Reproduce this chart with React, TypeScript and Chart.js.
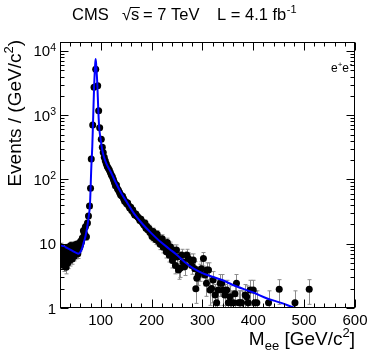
import React, { useEffect, useRef } from "react";
import { Chart, registerables } from "chart.js";
Chart.register(...registerables);

// Axis ranges and tick labels
const X_MIN = 20;
const X_MAX = 600;
const Y_MIN = 1;
const Y_MAX = 13800;
const xTickLabels = [100, 200, 300, 400, 500, 600];
const yDecadeExponents = [0, 1, 2, 3, 4];

// Data points: dielectron mass (GeV/c^2), events/(GeV/c^2), error
const massX = [
  21, 22, 23, 24, 25, 26, 27, 28, 29, 30, 31, 32, 33, 34, 35, 36, 37, 38, 39, 40,
  41, 42, 43, 44, 45, 46, 47, 48, 49, 50, 51, 52, 53, 54, 55, 56, 57, 58, 59, 60,
  61, 62, 64, 66, 68, 70, 72, 74, 76, 78, 80, 81.5, 84.3, 86.9, 90.2, 94.1, 96, 98,
  101.2, 103.2, 105, 107, 109, 111, 113, 115, 117, 119, 121, 123, 125, 127, 129, 131,
  133, 135, 137, 139, 141, 143, 145, 147, 149, 151, 153, 155, 157, 159, 161, 163, 165,
  167, 169, 171, 173, 175, 177, 179, 181, 183, 185, 187, 189, 191, 193, 195, 197, 199,
  201, 203, 205, 207, 209, 211, 213, 215, 217, 219, 221, 223, 225, 227, 229, 231, 233,
  235, 237, 239, 241, 243, 245, 247, 249, 251, 253, 256, 259, 262, 265, 269, 272, 276,
  279, 282, 285, 287, 289, 292, 295, 298, 302, 305, 308, 309, 312, 315, 318, 321, 325,
  328, 331, 335, 338, 341, 344, 348, 351, 354, 357, 361, 364, 367, 371, 374, 377, 384,
  387, 390, 394, 400, 403, 407, 430, 451, 482, 510,
];
const eventsY = [
  9.0, 7.5, 6.2, 8.4, 5.2, 7.0, 4.6, 6.5, 8.0, 5.6, 7.2, 4.3, 6.0, 8.6, 5.0, 7.4, 6.3, 8.8, 5.5, 7.8,
  9.4, 6.8, 8.2, 5.8, 9.0, 7.2, 8.7, 6.4, 9.6, 7.8, 8.8, 6.9, 9.8, 8.1, 7.0, 9.3, 8.4, 10.2, 8.9, 9.6,
  11.0, 10.5, 12.3, 16.0, 14.5, 18.4, 12.9, 21, 27, 38.7, 73, 209, 707, 2720, 5190, 2880, 1175, 640,
  422, 317, 262, 222, 196, 176, 160, 150, 140, 128, 118, 110, 100, 90, 80, 82,
  72, 68, 63, 58, 56, 55, 50, 46, 45, 42, 43, 39, 36, 37, 33, 33.6, 30,
  28, 29, 27, 26, 24.9, 23, 24, 22, 20.8, 19.6, 21, 17.5, 18.5, 16.3, 17.3, 15, 14.8,
  13, 15.5, 12.3, 13.5, 11.5, 14, 11, 12, 9.8, 10.5, 12, 8.8, 10, 9.3, 7.5, 10.5, 8.2,
  6.6, 9, 7.2, 5.5, 8, 6.3, 4.6, 8, 6.2, 3.9, 4.14, 6.7, 5.2, 4.4, 6.7, 5.9, 5.6,
  4.6, 5.6, 4.1, 2.0, 2.9, 3.3, 3.7, 4.1, 5.9, 3.26, 2.42, 3.9, 3.9, 1.9, 2.02, 2.73, 1.59,
  1.21, 1.9, 2.42, 2.42, 1.9, 1.59, 1.9, 1.21, 1.5, 1.21, 1.21, 1.66, 2.42, 1.21, 1.21, 1.21, 1.59,
  1.5, 1.21, 1.9, 1.9, 1.21, 1.21, 1.21, 1.95, 1.21, 1.95,
];
const eventsErr = [
  1.2, 1.1, 1.0, 1.2, 0.9, 1.1, 0.9, 1.0, 1.2, 1.0, 1.1, 0.9, 1.0, 1.2, 0.9, 1.1, 1.0, 1.2, 1.0, 1.1,
  1.3, 1.1, 1.2, 1.0, 1.2, 1.1, 1.2, 1.0, 1.3, 1.1, 1.2, 1.1, 1.3, 1.2, 1.1, 1.2, 1.2, 1.3, 1.2, 1.3,
  1.4, 1.4, 1.5, 1.8, 1.7, 2.0, 1.6, 2.2, 2.5, 3, 4, 7, 13, 26, 36, 27, 17, 13,
  10, 9, 8, 7.5, 7, 6.6, 6.3, 6.1, 5.9, 5.7, 5.4, 5.2, 5, 4.7, 4.5, 4.5,
  4.2, 4.1, 4, 3.8, 3.7, 3.7, 3.5, 3.4, 3.4, 3.2, 3.3, 3.1, 3, 3, 2.9, 2.9, 2.7,
  2.7, 2.7, 2.6, 2.6, 2.5, 2.4, 2.5, 2.4, 2.3, 2.3, 2.3, 2.1, 2.2, 2.1, 2.1, 2, 2,
  1.9, 2, 1.8, 1.9, 1.8, 2, 1.7, 1.8, 1.7, 1.7, 1.8, 1.6, 1.7, 1.6, 1.5, 1.7, 1.6,
  1.4, 1.6, 1.5, 1.3, 1.6, 1.4, 1.2, 1.6, 1.4, 1.1, 1.15, 1.5, 1.3, 1.2, 1.5, 1.4, 1.35,
  1.25, 1.35, 1.15, 0.82, 1.0, 1.05, 1.1, 1.15, 1.4, 1.05, 0.9, 1.15, 1.15, 0.8, 0.82, 0.96, 0.73,
  0.64, 0.8, 0.9, 0.9, 0.8, 0.73, 0.8, 0.64, 0.71, 0.64, 0.64, 0.75, 0.9, 0.64, 0.64, 0.64, 0.73,
  0.71, 0.64, 0.8, 0.8, 0.64, 0.64, 0.64, 0.81, 0.64, 0.81,
];

// Fit curve
const fitX = [
  20, 30, 40, 46, 52, 56, 60, 63, 66, 70, 73, 76, 79, 81.5, 83.5, 85, 87, 88.2, 89.3, 90.2,
  91.5, 93.3, 95.3, 97, 99.2, 103, 106, 111, 121, 131, 141, 151, 165, 184, 200, 217, 235,
  250, 265, 282, 300, 315, 340, 360, 400, 426, 455, 482, 500,
];
const fitY = [
  9.6, 8.9, 8.1, 7.6, 7.2, 7.0, 7.4, 8.3, 10, 13, 17, 25, 42, 150, 330, 800, 2700, 4500, 6500, 7500,
  5500, 3150, 1200, 650, 460, 290, 230, 178, 125, 85, 60, 45, 30, 19.6, 14.5, 10.8, 8.3,
  6.7, 5.2, 4.15, 3.5, 3.15, 2.7, 2.28, 1.74, 1.42, 1.2, 1.0, 0.9,
];

const FONT = "'Liberation Sans', Arial, Helvetica, sans-serif";

const rootPlugin = {
  id: "rootFrame",
  beforeDatasetsDraw(chart: any) {
    const { ctx, chartArea: a, scales } = chart;
    const x = scales.x, y = scales.y;
    ctx.save();
    ctx.beginPath();
    ctx.rect(a.left, a.top, a.right - a.left, a.bottom - a.top);
    ctx.clip();
    ctx.strokeStyle = "#8c8c8c";
    ctx.lineWidth = 1;
    massX.forEach((mx, i) => {
      const v = eventsY[i];
      const e = eventsErr[i];
      const px = Math.round(x.getPixelForValue(mx)) + 0.5;
      const yt = y.getPixelForValue(v + e);
      const lo = v - e;
      const yb = lo > 0 ? y.getPixelForValue(lo) : a.bottom + 5;
      ctx.beginPath();
      ctx.moveTo(px, yt);
      ctx.lineTo(px, yb);
      ctx.moveTo(px - 2, yt);
      ctx.lineTo(px + 2, yt);
      if (lo > 0) {
        ctx.moveTo(px - 2, yb);
        ctx.lineTo(px + 2, yb);
      }
      ctx.stroke();
    });
    ctx.restore();
  },
  afterDraw(chart: any) {
    const { ctx, chartArea: a, scales } = chart;
    const x = scales.x, y = scales.y;
    const L = Math.round(a.left) + 0.5;
    const R = Math.round(a.right) - 0.5;
    const T = Math.round(a.top) + 0.5;
    const B = Math.round(a.bottom) - 0.5;
    ctx.save();
    ctx.strokeStyle = "#000";
    ctx.lineWidth = 1;
    ctx.strokeRect(L, T, R - L, B - T);
    // x ticks (inside, bottom and top)
    ctx.beginPath();
    for (let v = X_MIN; v <= X_MAX; v += 20) {
      const px = Math.round(x.getPixelForValue(v)) + 0.5;
      const len = v % 100 === 0 ? 8 : 4;
      ctx.moveTo(px, B);
      ctx.lineTo(px, B - len);
      ctx.moveTo(px, T);
      ctx.lineTo(px, T + len);
    }
    // y ticks (inside, left and right)
    for (const k of yDecadeExponents) {
      for (let m = 1; m <= 9; m++) {
        const v = m * Math.pow(10, k);
        if (v < Y_MIN || v > Y_MAX) continue;
        const py = Math.round(y.getPixelForValue(v)) + 0.5;
        const len = m === 1 ? 8 : 4;
        ctx.moveTo(L, py);
        ctx.lineTo(L + len, py);
        ctx.moveTo(R, py);
        ctx.lineTo(R - len, py);
      }
    }
    ctx.stroke();

    ctx.fillStyle = "#000";
    // x tick labels
    ctx.font = `15px ${FONT}`;
    ctx.textAlign = "center";
    ctx.textBaseline = "alphabetic";
    for (const v of xTickLabels) {
      ctx.fillText(String(v), x.getPixelForValue(v), 325);
    }
    // y tick labels
    for (const k of yDecadeExponents) {
      const py = y.getPixelForValue(Math.pow(10, k));
      ctx.textAlign = "right";
      if (k === 0) {
        ctx.font = `15px ${FONT}`;
        ctx.fillText("1", 56, py + 5.5);
      } else if (k === 1) {
        ctx.font = `15px ${FONT}`;
        ctx.fillText("10", 56, py + 5.5);
      } else {
        ctx.font = `10.5px ${FONT}`;
        const sup = String(k);
        const sw = ctx.measureText(sup).width;
        ctx.fillText(sup, 56, py);
        ctx.font = `15px ${FONT}`;
        ctx.fillText("10", 56 - sw, py + 5.5);
      }
    }

    // x axis title: M_ee [GeV/c^2], right aligned at plot right
    ctx.textAlign = "left";
    const big = `19px ${FONT}`;
    const small = `13px ${FONT}`;
    const partsX: [string, string, number][] = [
      ["M", big, 0],
      ["ee", small, 5],
      [" [GeV/c", big, 0],
      ["2", small, -8],
      ["]", big, 0],
    ];
    let totalX = 0;
    for (const [t, f] of partsX) {
      ctx.font = f;
      totalX += ctx.measureText(t).width;
    }
    let cx = 355 - totalX;
    for (const [t, f, dy] of partsX) {
      ctx.font = f;
      ctx.fillText(t, cx, 345 + dy);
      cx += ctx.measureText(t).width;
    }

    // y axis title: Events / (GeV/c^2), rotated, ending at top of frame
    const partsY: [string, string, number][] = [
      ["Events / (GeV/c", big, 0],
      ["2", small, -8],
      [")", big, 0],
    ];
    let totalY = 0;
    for (const [t, f] of partsY) {
      ctx.font = f;
      totalY += ctx.measureText(t).width;
    }
    ctx.save();
    ctx.translate(21, 40);
    ctx.rotate(-Math.PI / 2);
    let cy = -totalY;
    for (const [t, f, dy] of partsY) {
      ctx.font = f;
      ctx.fillText(t, cy, dy);
      cy += ctx.measureText(t).width;
    }
    ctx.restore();

    // header
    const hf = `16.5px ${FONT}`;
    ctx.font = hf;
    ctx.fillText("CMS", 72, 19.5);
    ctx.fillText("\u221A", 122, 19.5);
    const sqw = ctx.measureText("\u221A").width;
    const sx = 122 + sqw;
    ctx.fillText("s", sx, 19.5);
    const swd = ctx.measureText("s").width;
    ctx.beginPath();
    ctx.moveTo(sx - 1, 7.5);
    ctx.lineTo(sx + swd + 0.5, 7.5);
    ctx.stroke();
    ctx.fillText("= 7 TeV", 143, 19.5);
    ctx.fillText("L = 4.1 fb", 217, 19.5);
    const lw = ctx.measureText("L = 4.1 fb").width;
    ctx.font = `11px ${FONT}`;
    ctx.fillText("-1", 217 + lw + 0.5, 13);

    // legend label e+e-
    ctx.font = `12px ${FONT}`;
    let lx = 331;
    ctx.fillText("e", lx, 72);
    lx += ctx.measureText("e").width;
    ctx.font = `8px ${FONT}`;
    ctx.fillText("+", lx, 66.5);
    lx += ctx.measureText("+").width;
    ctx.font = `12px ${FONT}`;
    ctx.fillText("e", lx, 72);
    lx += ctx.measureText("e").width;
    ctx.font = `9px ${FONT}`;
    ctx.fillText("-", lx + 0.5, 66.5);

    ctx.restore();
  },
};

export default function App() {
  const ref = useRef<HTMLCanvasElement>(null);
  useEffect(() => {
    const canvas = ref.current;
    if (!canvas) return;
    const chart = new Chart(canvas, {
      type: "scatter",
      data: {
        datasets: [
          {
            label: "fit",
            data: fitX.map((v, i) => ({ x: v, y: fitY[i] })),
            showLine: true,
            borderColor: "#0000ff",
            backgroundColor: "#0000ff",
            borderWidth: 2,
            pointRadius: 0,
            cubicInterpolationMode: "monotone",
            order: 0,
          },
          {
            label: "data",
            data: massX.map((v, i) => ({ x: v, y: eventsY[i] })),
            showLine: false,
            pointRadius: 3.5,
            pointBackgroundColor: "#000",
            pointBorderColor: "#000",
            pointBorderWidth: 0,
            order: 1,
          },
        ],
      } as any,
      options: {
        responsive: false,
        animation: false,
        devicePixelRatio: 1,
        events: [],
        layout: { padding: { left: 60, right: 19, top: 42, bottom: 47 } },
        plugins: {
          legend: { display: false },
          tooltip: { enabled: false },
          title: { display: false },
        },
        scales: {
          x: { type: "linear", min: X_MIN, max: X_MAX, display: false },
          y: { type: "logarithmic", min: Y_MIN, max: Y_MAX, display: false },
        },
      } as any,
      plugins: [rootPlugin],
    });
    return () => chart.destroy();
  }, []);
  return (
    <div style={{ position: "absolute", left: 0, top: 0, width: 374, height: 355, background: "#fff" }}>
      <canvas ref={ref} width={374} height={355} style={{ display: "block", width: 374, height: 355 }} />
    </div>
  );
}
